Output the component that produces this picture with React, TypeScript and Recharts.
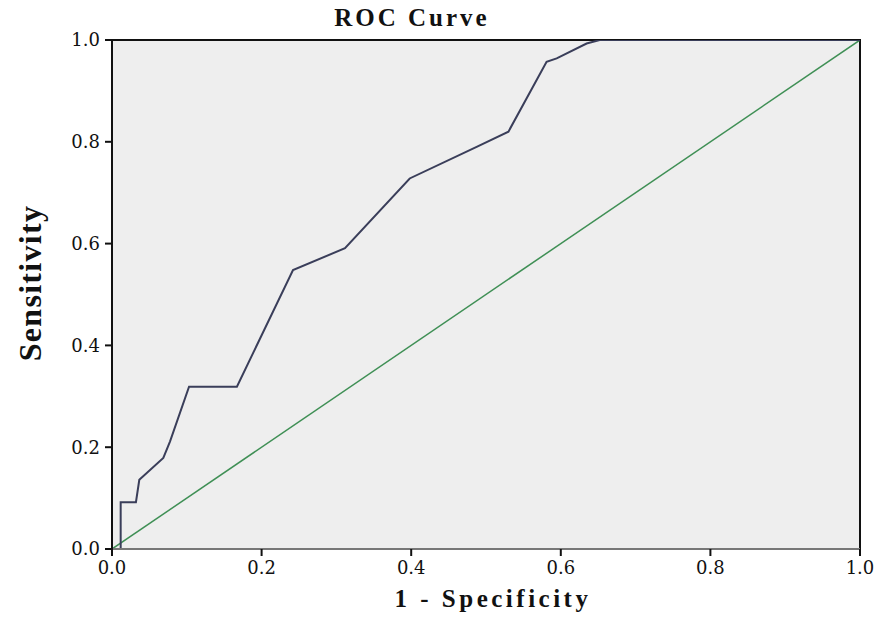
import React from 'react';
import { LineChart, Line, XAxis, YAxis, ReferenceArea } from 'recharts';

const fpr = [0, 0.0116, 0.0116, 0.032, 0.0365, 0.0686, 0.0775, 0.103, 0.167, 0.242, 0.3115, 0.398, 0.4875, 0.53, 0.581, 0.5945, 0.6345, 0.652, 1];
const tpr = [0, 0, 0.092, 0.092, 0.136, 0.179, 0.211, 0.319, 0.319, 0.548, 0.591, 0.728, 0.79, 0.82, 0.957, 0.964, 0.993, 1, 1];
const refX = [0, 1];
const refY = [0, 1];
const ticks = [0, 0.2, 0.4, 0.6, 0.8, 1];

const rocData = fpr.map((x, i) => ({ x, y: tpr[i] }));
const diagData = refX.map((x, i) => ({ x, y: refY[i] }));

const font = '"Liberation Serif", "DejaVu Serif", serif';
const tickFont = '"DejaVu Serif", serif';

export default function App() {
  return (
    <div style={{ position: 'absolute', left: 0, top: 0, background: '#fff' }}>
      <LineChart width={882} height={620} margin={{ top: 40, right: 22, left: 40, bottom: 21 }}>
        <ReferenceArea x1={0} x2={1} y1={0} y2={1} fill="#eeeeee" fillOpacity={1} stroke="#111" strokeWidth={2} />
        <XAxis
          type="number"
          dataKey="x"
          domain={[0, 1]}
          ticks={ticks}
          tickFormatter={(v: number) => v.toFixed(1)}
          height={50}
          axisLine={{ stroke: '#777', strokeWidth: 2 }}
          tickLine={{ stroke: '#111', strokeWidth: 2 }}
          tickSize={7}
          tickMargin={5}
          tick={{ fill: '#111', fontSize: 18, fontFamily: tickFont }}
          allowDataOverflow
        />
        <YAxis
          type="number"
          dataKey="y"
          domain={[0, 1]}
          ticks={ticks}
          tickFormatter={(v: number) => v.toFixed(1)}
          width={72}
          axisLine={{ stroke: '#111', strokeWidth: 2 }}
          tickLine={{ stroke: '#111', strokeWidth: 2 }}
          tickSize={7}
          tickMargin={5}
          tick={{ fill: '#111', fontSize: 18, fontFamily: tickFont }}
          allowDataOverflow
        />
        <Line data={diagData} dataKey="y" stroke="#3f8f55" strokeWidth={1.5} dot={false} isAnimationActive={false} type="linear" />
        <Line data={rocData} dataKey="y" stroke="#3a3e5a" strokeWidth={2} dot={false} isAnimationActive={false} type="linear" />
        <text x={412} y={26} textAnchor="middle" fontFamily={font} fontWeight="bold" fontSize={25} letterSpacing={3} fill="#111">ROC Curve</text>
        <text x={493} y={607} textAnchor="middle" fontFamily={font} fontWeight="bold" fontSize={25} letterSpacing={3.5} fill="#111">1 - Specificity</text>
        <text x={41} y={283} textAnchor="middle" fontFamily={font} fontWeight="bold" fontSize={32} letterSpacing={1.3} fill="#111" transform="rotate(-90 41 283)">Sensitivity</text>
      </LineChart>
    </div>
  );
}
